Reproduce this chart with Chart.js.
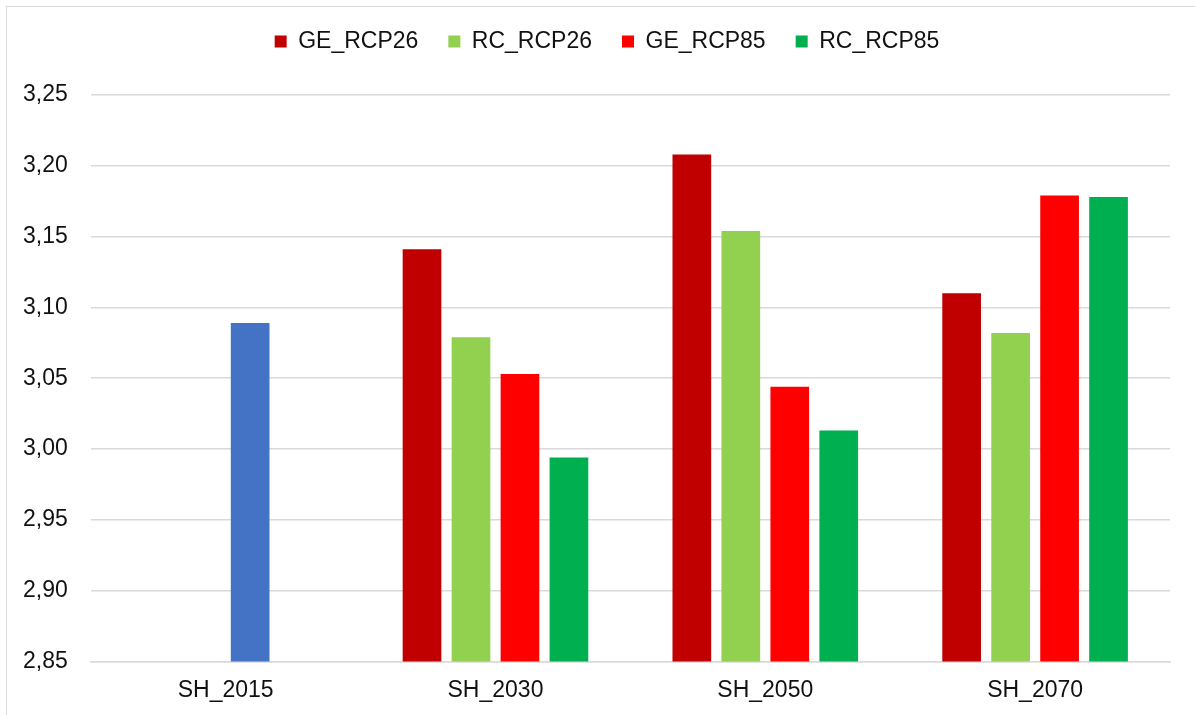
<!DOCTYPE html>
<html>
<head>
<meta charset="utf-8">
<script src="https://cdn.jsdelivr.net/npm/chart.js@4/dist/chart.umd.min.js"></script>
<style>
  body { margin: 0; background: #fff; overflow: hidden; }
  .frame {
    position: absolute; left: 6px; top: 6px;
    width: 1300px; height: 800px;
    border: 1px solid #d9d9d9;
  }
  .wrap { position: absolute; left: 0; top: 0; width: 1195px; height: 720px; }
</style>
</head>
<body>
<div class="frame"></div>
<div class="wrap"><canvas id="barChart"></canvas></div>
<script>
const categories = ["SH_2015", "SH_2030", "SH_2050", "SH_2070"];
const seriesNames = ["GE_RCP26", "RC_RCP26", "GE_RCP85", "RC_RCP85"];
// 2015 baseline only exists in the first category (blue bar, not in legend)
const baseline = [3.089, null, null, null];
const geRcp26 = [null, 3.141, 3.208, 3.110];
const rcRcp26 = [null, 3.079, 3.154, 3.082];
const geRcp85 = [null, 3.053, 3.044, 3.179];
const rcRcp85 = [null, 2.994, 3.013, 3.178];
const yMin = 2.85;
const yMax = 3.25;
const yStep = 0.05;

const colors = ["#C00000", "#92D050", "#FF0000", "#00B050"];
const seriesData = [geRcp26, rcRcp26, geRcp85, rcRcp85];
const slots = ["a", "b", "c", "d"];

Chart.defaults.font.family = "'Liberation Sans', Arial, sans-serif";
Chart.defaults.font.size = 23;
Chart.defaults.color = "#111";

const datasets = seriesNames.map((name, i) => ({
  label: name,
  data: seriesData[i],
  backgroundColor: colors[i],
  borderWidth: 0,
  stack: slots[i],
  categoryPercentage: 0.726,
  barPercentage: 0.79,
}));
// shares the third slot, like the original sheet
datasets.push({
  label: "SH_2015",
  data: baseline,
  backgroundColor: "#4472C4",
  borderWidth: 0,
  stack: "c",
  categoryPercentage: 0.726,
  barPercentage: 0.79,
});

// extra room under the legend and nudge it to the right
const legendSpace = {
  id: "legendSpace",
  beforeInit(chart) {
    const fit = chart.legend.fit;
    chart.legend.fit = function () {
      fit.bind(chart.legend)();
      this.height += 32;
    };
  },
  afterLayout(chart) {
    chart.legend.left += 22;
    chart.legend.right += 22;
  },
};

const ctx = document.getElementById("barChart");
const myChart = new Chart(ctx, {
  type: "bar",
  data: {
    labels: categories,
    datasets: datasets,
  },
  plugins: [legendSpace],
  options: {
    responsive: true,
    maintainAspectRatio: false,
    animation: false,
    layout: {
      padding: { left: 0, right: 25, top: 0, bottom: 1 },
    },
    plugins: {
      tooltip: { enabled: false },
      legend: {
        position: "top",
        labels: {
          boxWidth: 12,
          boxHeight: 12,
          padding: 30,
          filter: (item) => item.datasetIndex < 4,
        },
      },
    },
    scales: {
      x: {
        grid: { display: false, drawTicks: false },
        border: { display: true, color: "#d9d9d9", width: 1.5 },
        ticks: { padding: 15 },
      },
      y: {
        stacked: false,
        min: yMin,
        max: yMax,
        grid: {
          color: "#d9d9d9",
          lineWidth: 1.5,
          drawTicks: false,
        },
        border: { display: false },
        ticks: {
          stepSize: yStep,
          padding: 23,
          callback: (v) => v.toFixed(2).replace(".", ","),
        },
      },
    },
  },
});
</script>
</body>
</html>
